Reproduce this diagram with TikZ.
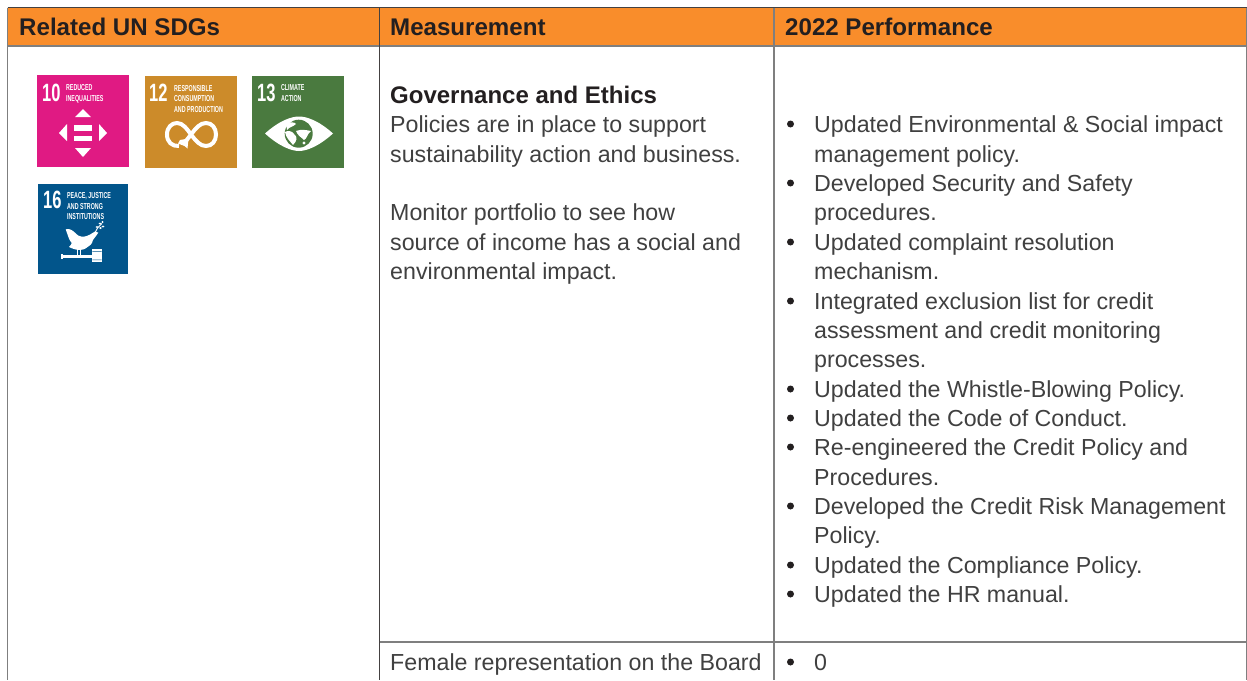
\documentclass[tikz,border=0pt]{standalone}
\usepackage{fontspec}
\setmainfont{Liberation Sans}
\definecolor{hdr}{HTML}{F98D2B}
\definecolor{txt}{HTML}{404040}
\definecolor{hdrtxt}{HTML}{231F20}
\definecolor{rulegray}{HTML}{7F7F7F}
\definecolor{sdgten}{HTML}{E01A83}
\definecolor{sdgtw}{HTML}{CC8B2A}
\definecolor{sdgth}{HTML}{4A7A3F}
\definecolor{sdgsx}{HTML}{02558B}
\tikzset{
 head/.style={anchor=base west,inner sep=0,font=\fontsize{24.1}{24.1}\selectfont\bfseries,text=hdrtxt},
 body/.style={anchor=base west,inner sep=0,font=\fontsize{23.2}{23.2}\selectfont,text=txt},
 bodyb/.style={body,font=\fontsize{24}{24}\selectfont\bfseries,text=hdrtxt},
 bul/.style={anchor=center,inner sep=0,circle,fill=hdrtxt,minimum size=7pt},
 grid/.style={draw=rulegray,line width=1.2pt},
 gridd/.style={draw=hdrtxt!85,line width=1pt},
 num/.style={anchor=base west,inner sep=0,text=white,font=\fontsize{25}{25}\selectfont\bfseries,xscale=.66,transform shape},
 tiny/.style={anchor=base west,inner sep=0,text=white,font=\fontsize{8.6}{8.6}\selectfont\bfseries,xscale=.62,transform shape},
 wl/.style={white,line width=4pt},
}
\begin{document}
\begin{tikzpicture}[x=1pt,y=-1pt]
\useasboundingbox (0,0) rectangle (1247,680);
\fill[white] (0,0) rectangle (1247,680);
% header
\fill[hdr] (8,8) rectangle (1247,46);
\draw[gridd] (7.5,7.5) -- (1247,7.5);
\draw[grid] (7.5,46) -- (1247,46);
\draw[grid] (7.5,7.5) -- (7.5,680);
\draw[gridd] (379.5,7.5) -- (379.5,680);
\draw[grid] (774,7.5) -- (774,680);
\draw[grid] (379.5,642) -- (1247,642);
\draw[draw=rulegray,line width=.8pt] (1246.6,7.5) -- (1246.6,680);
\node[head] (h1) at (19,35) {Related UN SDGs};
\node[head] (h2) at (390,35) {Measurement};
\node[head] (h3) at (785,35) {2022 Performance};
% column 2
\node[bodyb] (g0) at (390,103) {Governance and Ethics};
\node[body] (g1) at (390,132) {Policies are in place to support};
\node[body] (g2) at (390,162) {sustainability action and business.};
\node[body] (g3) at (390,220) {Monitor portfolio to see how};
\node[body] (g4) at (390,250) {source of income has a social and};
\node[body] (g5) at (390,279) {environmental impact.};
\node[body] (f1) at (390,670) {Female representation on the Board};
% column 3
\node[bul] (b1) at (790.5,124) {};
\node[body] (p1) at (814,132) {Updated Environmental \& Social impact};
\node[body] (p2) at (814,162) {management policy.};
\node[bul] (b2) at (790.5,183) {};
\node[body] (p3) at (814,191) {Developed Security and Safety};
\node[body] (p4) at (814,220) {procedures.};
\node[bul] (b3) at (790.5,242) {};
\node[body] (p5) at (814,250) {Updated complaint resolution};
\node[body] (p6) at (814,279) {mechanism.};
\node[bul] (b4) at (790.5,301) {};
\node[body] (p7) at (814,309) {Integrated exclusion list for credit};
\node[body] (p8) at (814,338) {assessment and credit monitoring};
\node[body] (p9) at (814,367) {processes.};
\node[bul] (b5) at (790.5,389) {};
\node[body] (p10) at (814,397) {Updated the Whistle-Blowing Policy.};
\node[bul] (b6) at (790.5,418) {};
\node[body] (p11) at (814,426) {Updated the Code of Conduct.};
\node[bul] (b7) at (790.5,447) {};
\node[body] (p12) at (814,455) {Re-engineered the Credit Policy and};
\node[body] (p13) at (814,485) {Procedures.};
\node[bul] (b8) at (790.5,506) {};
\node[body] (p14) at (814,514) {Developed the Credit Risk Management};
\node[body] (p15) at (814,543) {Policy.};
\node[bul] (b9) at (790.5,565) {};
\node[body] (p16) at (814,573) {Updated the Compliance Policy.};
\node[bul] (b10) at (790.5,594) {};
\node[body] (p17) at (814,602) {Updated the HR manual.};
\node[bul] (b11) at (790.5,662) {};
\node[body] (p18) at (814,670) {0};
% SDG 10
\fill[sdgten] (37,75) rectangle (129,167);
\node[num] (n10) at (42,101) {10};
\node[tiny] (t10a) at (66,90) {REDUCED};
\node[tiny] (t10b) at (66,101) {INEQUALITIES};
\fill[white] (83,109) -- (91,117) -- (75,117) -- cycle;
\fill[white] (83,157) -- (91,148) -- (75,148) -- cycle;
\fill[white] (59,133) -- (67,124) -- (67,141) -- cycle;
\fill[white] (107,133) -- (99,124) -- (99,141) -- cycle;
\fill[white] (74,125) rectangle (92,131);
\fill[white] (74,136) rectangle (92,141);
% SDG 12
\fill[sdgtw] (145,76) rectangle (237,168);
\node[num] (n12) at (149,101) {12};
\node[tiny] (t12a) at (174,91) {RESPONSIBLE};
\node[tiny] (t12b) at (174,101.5) {CONSUMPTION};
\node[tiny] (t12c) at (174,112) {AND PRODUCTION};
\draw[wl] (179,146) .. controls (172,146.5) and (167,142) .. (167,134.5)
  .. controls (167,127) and (172,123) .. (177,123)
  .. controls (183,123) and (187,129) .. (191,134.5)
  .. controls (196,141) and (200,146) .. (206,146)
  .. controls (212,146) and (216,141) .. (216,134.5)
  .. controls (216,128) and (212,123) .. (206,123)
  .. controls (200,123) and (196,128) .. (191,134.5)
  .. controls (190,136) and (189,137) .. (186,141);
\fill[white] (188.5,138.5) -- (187.5,148.5) -- (184.5,146) -- (178,143.5) -- (180,140) -- cycle;
% SDG 13
\fill[sdgth] (252,76) rectangle (344,168);
\node[num] (n13) at (257,101) {13};
\node[tiny] (t13a) at (281,90) {CLIMATE};
\node[tiny] (t13b) at (281,101) {ACTION};
\fill[white] (265,133.5) .. controls (280,120) and (292,116.5) .. (299,116.5)
  .. controls (306,116.5) and (318,120) .. (333,133.5)
  .. controls (318,147) and (306,151) .. (299,151)
  .. controls (292,151) and (280,147) .. (265,133.5) -- cycle;
\fill[sdgth] (298.7,133.7) circle (14);
\fill[white] (286,123) .. controls (290,122) and (295,122) .. (296,124) .. controls (293,127) and (289,127) .. (287,130) -- cycle;
\fill[white] (285,132) .. controls (288,130) and (292,131) .. (294,134) .. controls (298,137) and (297,141) .. (293,145) .. controls (290,141) and (286,138) .. (285,132) -- cycle;
\fill[white] (296,131) .. controls (301,129) and (306,130) .. (311,131) .. controls (307,134) and (307,139) .. (304,140) .. controls (301,137) and (298,136) .. (296,131) -- cycle;
\fill[white] (304,143) circle (1.6);
% SDG 16
\fill[sdgsx] (38,184) rectangle (128,274);
\node[num] (n16) at (43,208) {16};
\node[tiny] (t16a) at (67,198) {PEACE, JUSTICE};
\node[tiny] (t16b) at (67,209) {AND STRONG};
\node[tiny] (t16c) at (67,219) {INSTITUTIONS};
% dove
\fill[white] (65.7,229.3) .. controls (70,228) and (73,231) .. (75,232.7)
  .. controls (77,235) and (79,236.5) .. (81.7,236.7)
  .. controls (85,237) and (89,235.5) .. (93,232.7)
  .. controls (94,231) and (96,231) .. (98.3,232.7)
  .. controls (96,236) and (94.5,238) .. (93,240)
  .. controls (92,244) and (90,246) .. (88,246.7)
  .. controls (85,249) and (83,250) .. (80,250)
  .. controls (76,250) and (72,248.5) .. (69,247)
  .. controls (71,245) and (71.5,244) .. (71.7,243)
  .. controls (69.5,240) and (68.5,238) .. (68.3,236.7)
  .. controls (67.5,234) and (66.5,232) .. (65.7,229.3) -- cycle;
\draw[white,line width=.9pt] (95.5,232) .. controls (97,228) and (99,226) .. (102,223.5);
\fill[white] (97,227) ellipse (1.4 and 1) (100,223.5) ellipse (1.4 and 1) (103,226.5) ellipse (1.4 and 1) (102.5,222) ellipse (1 and 1.2) (100.5,228) ellipse (1.4 and 1);
\draw[white,line width=1pt] (77.5,250) -- (77.5,255) (80,250) -- (80,255);
% gavel
\fill[white] (61.7,254.5) rectangle (92.3,257.5);
\fill[white] (61,253.5) rectangle (62.5,258.5);
\fill[white] (92.3,249) rectangle (101.7,262);
\fill[sdgsx] (92.3,251) rectangle (101.7,251.7) (92.3,259.5) rectangle (101.7,260.2);
\end{tikzpicture}
\end{document}
